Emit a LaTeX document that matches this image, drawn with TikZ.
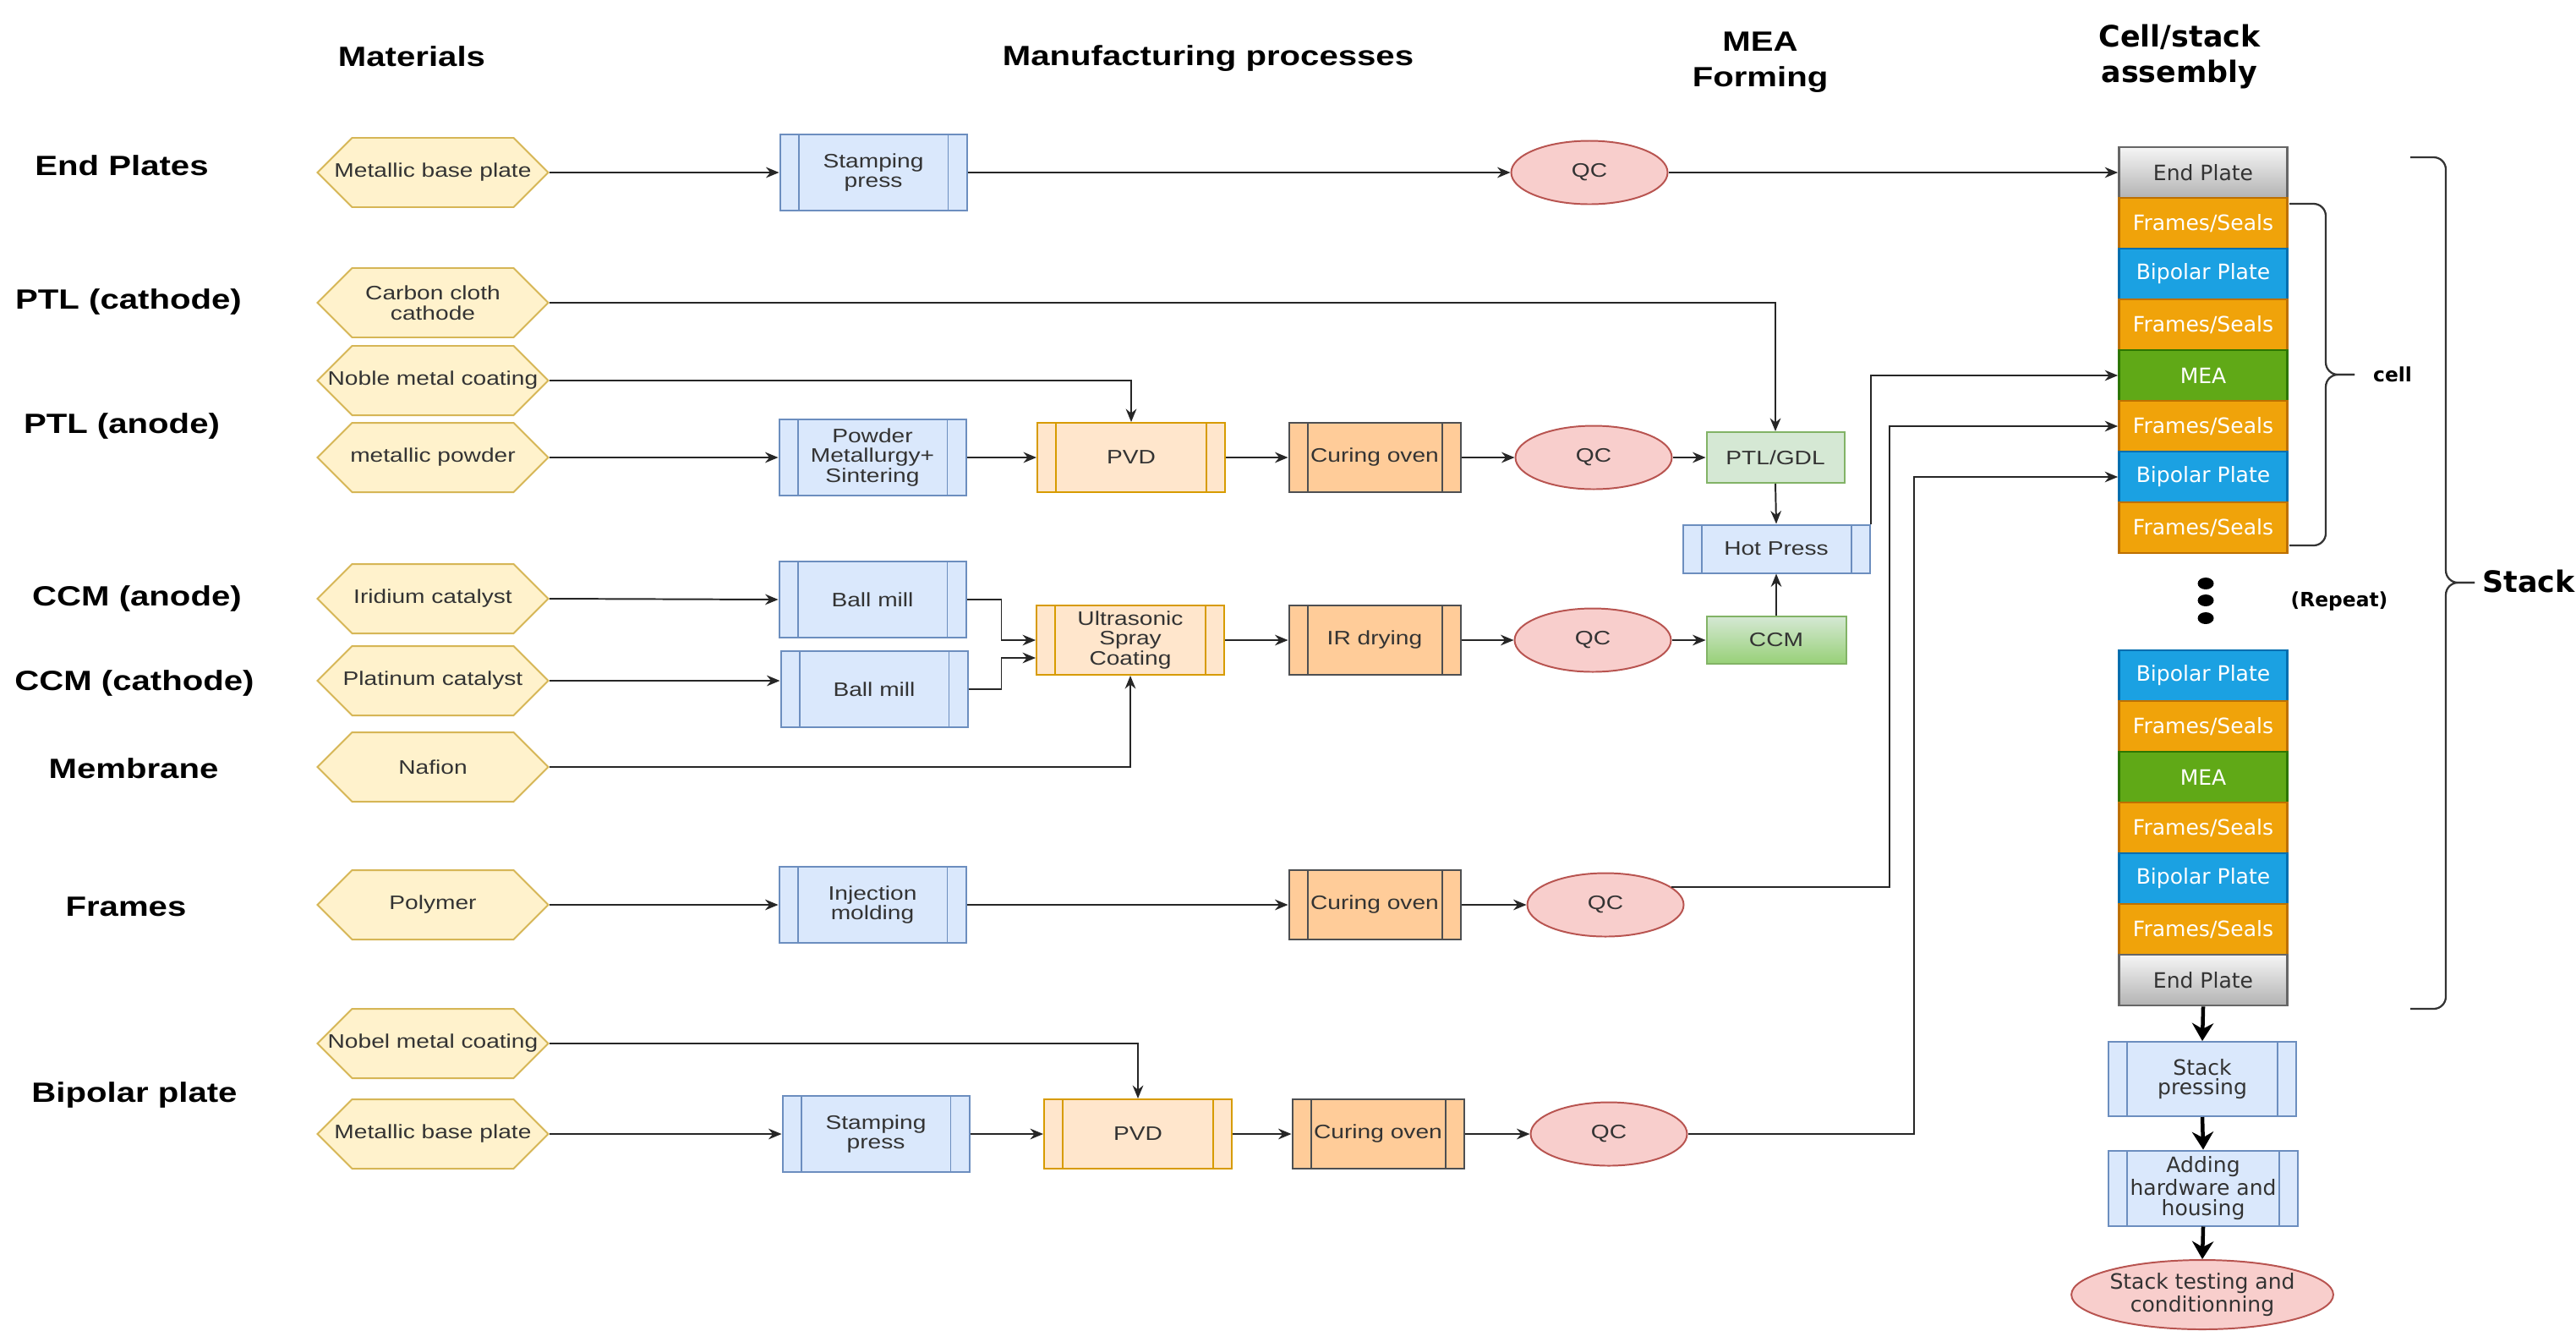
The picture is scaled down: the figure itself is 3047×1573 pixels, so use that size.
\documentclass[tikz,border=0pt]{standalone}
\usepackage{fontspec}
\setmainfont{Liberation Sans}[FakeStretch=1.22]
\newfontfamily\dejavu{DejaVu Sans}
\usepackage{tikz}
\usetikzlibrary{shapes.geometric,shapes.symbols,arrows.meta,calc}

\definecolor{hexfill}{HTML}{FFF2CC}
\definecolor{hexline}{HTML}{D6B656}
\definecolor{bluefill}{HTML}{DAE8FC}
\definecolor{blueline}{HTML}{6C8EBF}
\definecolor{pvdfill}{HTML}{FFE6CC}
\definecolor{pvdline}{HTML}{D79B00}
\definecolor{ovenfill}{HTML}{FFCC99}
\definecolor{ovenline}{HTML}{4D4F52}
\definecolor{qcfill}{HTML}{F8CECC}
\definecolor{qcline}{HTML}{B85450}
\definecolor{gdlfill}{HTML}{D5E8D4}
\definecolor{gdlline}{HTML}{82B366}
\definecolor{ccmdark}{HTML}{97D077}
\definecolor{framefill}{HTML}{F0A30A}
\definecolor{frameline}{HTML}{BD7000}
\definecolor{bpfill}{HTML}{1BA1E2}
\definecolor{bpline}{HTML}{006EAF}
\definecolor{meafill}{HTML}{60A917}
\definecolor{mealine}{HTML}{2D7600}
\definecolor{eplight}{HTML}{F5F5F5}
\definecolor{epdark}{HTML}{B3B3B3}
\definecolor{epline}{HTML}{666666}
\definecolor{txt}{HTML}{333333}

\newcommand\pxu{0.0125cm}
\newcommand\fntproc{\fontsize{8.2}{8.5}\selectfont}
\newcommand\fnthead{\fontsize{11.7}{15}\selectfont\bfseries}
\newcommand\fntlayer{\dejavu\fontsize{8.9}{8.4}\selectfont}
\newcommand\fntnote{\dejavu\bfseries\fontsize{8.3}{10}\selectfont}
\newcommand\fntbig{\dejavu\bfseries\fontsize{12.4}{15}\selectfont}

\begin{document}
\begin{tikzpicture}[x=0.0125cm, y=-0.0125cm]
        \tikzset{
          mat/.style={signal, signal to=east and west, draw=hexline, fill=hexfill, line width=0.7pt,
            minimum width=273*\pxu, minimum height=82*\pxu, inner sep=0pt},
          matlbl/.style={font=\fntproc, text=txt, align=center, inner sep=0pt},
          proc/.style 2 args={rectangle, draw=#2, fill=#1, line width=0.7pt, inner sep=0pt,
            font=\fntproc, text=txt, align=center,
            path picture={\draw[#2, line width=0.7pt]
              ([xshift=0.275cm]path picture bounding box.north west) -- ([xshift=0.275cm]path picture bounding box.south west)
              ([xshift=-0.275cm]path picture bounding box.north east) -- ([xshift=-0.275cm]path picture bounding box.south east);}},
          blueproc/.style={proc={bluefill}{blueline}, minimum width=221*\pxu, minimum height=90*\pxu},
          coatproc/.style={proc={pvdfill}{pvdline}, minimum width=222*\pxu, minimum height=82*\pxu},
          ovenproc/.style={proc={ovenfill}{ovenline}, minimum width=203*\pxu, minimum height=82*\pxu},
          finalproc/.style={proc={bluefill}{blueline}, minimum width=222*\pxu, minimum height=88*\pxu, font=\fntlayer},
          qc/.style={ellipse, draw=qcline, fill=qcfill, line width=0.7pt, inner sep=0pt,
            minimum width=185*\pxu, minimum height=75*\pxu, font=\fntproc, text=txt},
          gdl/.style={rectangle, draw=gdlline, fill=gdlfill, line width=0.7pt, inner sep=0pt,
            minimum width=163*\pxu, minimum height=60*\pxu, font=\fntproc, text=txt},
          ccmbox/.style={gdl, top color=gdlfill, bottom color=ccmdark, minimum width=165*\pxu, minimum height=56*\pxu},
          stacklayer/.style={rectangle, line width=1pt, inner sep=0pt, minimum width=199*\pxu,
            minimum height=60*\pxu, font=\fntlayer, text=white},
          sealbox/.style={stacklayer, draw=frameline, fill=framefill},
          bipbox/.style={stacklayer, draw=bpline, fill=bpfill},
          meabox/.style={stacklayer, draw=mealine, fill=meafill},
          endbox/.style={stacklayer, draw=epline, top color=eplight, bottom color=epdark, text=txt},
          head/.style={font=\fnthead, align=center, inner sep=0pt},
          bighead/.style={font=\fntbig, align=center, inner sep=0pt},
          note/.style={font=\fntnote, inner sep=0pt},
          flow/.style={-{Stealth[length=5.5pt,width=4.5pt]}, line width=0.7pt, draw=black!85},
          bigflow/.style={-{Stealth[length=7.5pt,width=9pt]}, line width=1.6pt, draw=black},
          curly/.style={line width=0.8pt, draw=black!80, rounded corners=0.18cm}
        }
        \useasboundingbox (0,0) rectangle (3047,1573);

        % column and row titles
        \node[head] (hmat) at (487,67) {Materials};
        \node[head] (hman) at (1429,69) {Manufacturing processes};
        \node[head] (hmea) at (2082,74) {MEA\\Forming};
        \node[bighead] (hcell) at (2578,67) {Cell/stack\\assembly};

        \node[head] (rend) at (144,196) {End Plates};
        \node[head] (rptlc) at (152,357) {PTL (cathode)};
        \node[head] (rptla) at (144,504) {PTL (anode)};
        \node[head] (rccma) at (162,708) {CCM (anode)};
        \node[head] (rccmc) at (159,808) {CCM (cathode)};
        \node[head] (rmem) at (158,909) {Membrane};
        \node[head] (rfr) at (149,1072) {Frames};
        \node[head] (rbip) at (159,1295) {Bipolar plate};

        % materials
        \node[mat, label={[matlbl]center:Metallic base plate}] (endbase) at (512,204) {};
        \node[mat, label={[matlbl]center:{Carbon cloth\\cathode}}] (carbon) at (512,358) {};
        \node[mat, label={[matlbl]center:Noble metal coating}] (noble) at (512,450) {};
        \node[mat, label={[matlbl]center:metallic powder}] (powder) at (512,541) {};
        \node[mat, label={[matlbl]center:Iridium catalyst}] (iridium) at (512,708) {};
        \node[mat, label={[matlbl]center:Platinum catalyst}] (platinum) at (512,805) {};
        \node[mat, label={[matlbl]center:Nafion}] (nafion) at (512,907) {};
        \node[mat, label={[matlbl]center:Polymer}] (polymer) at (512,1070) {};
        \node[mat, label={[matlbl]center:Nobel metal coating}] (nobel) at (512,1234) {};
        \node[mat, label={[matlbl]center:Metallic base plate}] (bipbase) at (512,1341) {};

        % manufacturing processes
        \node[blueproc] (stamp1) at (1033,204) {Stamping\\press};
        \node[blueproc] (pm) at (1032,541) {Powder\\Metallurgy+\\Sintering};
        \node[blueproc] (mill1) at (1032,709) {Ball mill};
        \node[blueproc] (mill2) at (1034,815) {Ball mill};
        \node[blueproc] (inject) at (1032,1070) {Injection\\molding};
        \node[blueproc] (stamp2) at (1036,1341) {Stamping\\press};
        \node[coatproc] (pvd1) at (1338,541) {PVD};
        \node[coatproc] (spray) at (1337,757) {Ultrasonic\\Spray\\Coating};
        \node[coatproc] (pvd2) at (1346,1341) {PVD};
        \node[ovenproc] (oven1) at (1626,541) {Curing oven};
        \node[ovenproc] (irdry) at (1626,757) {IR drying};
        \node[ovenproc] (oven2) at (1626,1070) {Curing oven};
        \node[ovenproc] (oven3) at (1630,1341) {Curing oven};
        \node[qc] (qc1) at (1880,204) {QC};
        \node[qc] (qc2) at (1885,541) {QC};
        \node[qc] (qc3) at (1884,757) {QC};
        \node[qc] (qc4) at (1899,1070) {QC};
        \node[qc] (qc5) at (1903,1341) {QC};

        % MEA forming
        \node[gdl] (ptl) at (2100,541) {PTL/GDL};
        \node[blueproc, minimum height=57*\pxu] (hot) at (2101,649) {Hot Press};
        \node[ccmbox] (ccm) at (2101,757) {CCM};

        % cell / stack
        \node[endbox] (ep1) at (2606,204) {End Plate};
        \node[sealbox] (fs1) at (2606,264) {Frames/Seals};
        \node[bipbox] (bp1) at (2606,324) {Bipolar Plate};
        \node[sealbox] (fs2) at (2606,384) {Frames/Seals};
        \node[meabox] (mea1) at (2606,444) {MEA};
        \node[sealbox] (fs3) at (2606,504) {Frames/Seals};
        \node[bipbox] (bp2) at (2606,564) {Bipolar Plate};
        \node[sealbox] (fs4) at (2606,624) {Frames/Seals};

        \node[bipbox] (bp3) at (2606,799) {Bipolar Plate};
        \node[sealbox] (fs5) at (2606,859) {Frames/Seals};
        \node[meabox] (mea2) at (2606,919) {MEA};
        \node[sealbox] (fs6) at (2606,979) {Frames/Seals};
        \node[bipbox] (bp4) at (2606,1039) {Bipolar Plate};
        \node[sealbox] (fs7) at (2606,1099) {Frames/Seals};
        \node[endbox] (ep2) at (2606,1159) {End Plate};

        \node[finalproc] (spress) at (2605,1276) {Stack\\pressing};
        \node[finalproc, minimum width=224*\pxu, minimum height=89*\pxu] (addhw) at (2606,1405) {Adding\\hardware and\\housing};
        \node[qc, font=\fntlayer, align=center, minimum width=241*\pxu, minimum height=82*\pxu] (test) at (2605,1531) {Stack testing and\\conditionning};

        \fill[black] (2609,690) ellipse [x radius=9.5*\pxu, y radius=7*\pxu];
        \fill[black] (2609,710) ellipse [x radius=9.5*\pxu, y radius=7*\pxu];
        \fill[black] (2609,731) ellipse [x radius=9.5*\pxu, y radius=7*\pxu];
        \node[note] (repeat) at (2767,711) {(Repeat)};

        \draw[curly] (2708,241) -- (2751,241) -- (2751,443) -- (2785,443);
        \draw[curly] (2785,443) -- (2751,443) -- (2751,645) -- (2708,645);
        \node[note] (celllbl) at (2830,443) {cell};
        \draw[curly] (2851,186) -- (2893,186) -- (2893,689) -- (2927,689);
        \draw[curly] (2927,689) -- (2893,689) -- (2893,1193) -- (2851,1193);
        \node[bighead] (stacklbl) at (2991,687) {Stack};

        % connectors
        \draw[flow] (endbase.east) -- (stamp1.west);
        \draw[flow] (stamp1.east) -- (qc1.west);
        \draw[flow] (qc1.east) -- (ep1.west);
        \draw[flow] (carbon.east) -| (ptl.north);
        \draw[flow] (noble.east) -| (pvd1.north);
        \draw[flow] (powder.east) -- (pm.west);
        \draw[flow] (pm.east) -- (pvd1.west);
        \draw[flow] (pvd1.east) -- (oven1.west);
        \draw[flow] (oven1.east) -- (qc2.west);
        \draw[flow] (qc2.east) -- (ptl.west);
        \draw[flow] (ptl.south) -- (hot.north);
        \draw[flow] (ccm.north) -- (hot.south);
        \draw[flow] (hot.north east) |- (mea1.west);
        \draw[flow] (iridium.east) -- (mill1.west);
        \draw[flow] (platinum.east) -- (platinum.east -| mill2.west);
        \draw[flow] (mill1.east) -- ++(41,0) |- (spray.west);
        \draw[flow] (mill2.east) -- ++(39,0) |- ($(spray.west)+(0,21)$);
        \draw[flow] (nafion.east) -| (spray.south);
        \draw[flow] (spray.east) -- (irdry.west);
        \draw[flow] (irdry.east) -- (qc3.west);
        \draw[flow] (qc3.east) -- (ccm.west);
        \draw[flow] (polymer.east) -- (inject.west);
        \draw[flow] (inject.east) -- (oven2.west);
        \draw[flow] (oven2.east) -- (qc4.west);
        \draw[flow] (qc4.15) -| ($(fs3.west)+(-270,0)$) -- (fs3.west);
        \draw[flow] (nobel.east) -| (pvd2.north);
        \draw[flow] (bipbase.east) -- (stamp2.west);
        \draw[flow] (stamp2.east) -- (pvd2.west);
        \draw[flow] (pvd2.east) -- (oven3.west);
        \draw[flow] (oven3.east) -- (qc5.west);
        \draw[flow] (qc5.east) -| ($(bp2.west)+(-241,0)$) -- (bp2.west);

        \draw[bigflow] (ep2.south) -- (spress.north);
        \draw[bigflow] (spress.south) -- (addhw.north);
        \draw[bigflow] (addhw.south) -- (test.north);
\end{tikzpicture}
\end{document}
